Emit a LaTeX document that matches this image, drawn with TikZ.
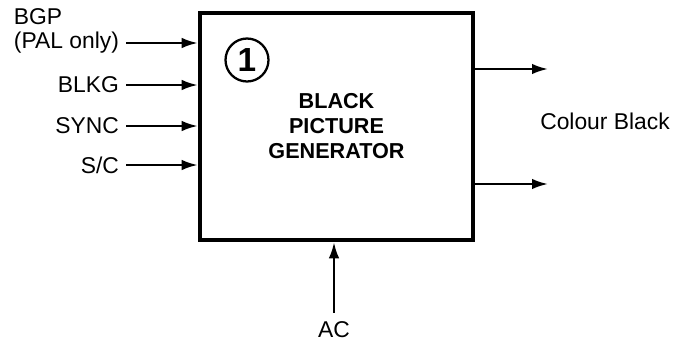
\documentclass[tikz,border=0pt]{standalone}
\usepackage{fontspec}
\setmainfont{Liberation Sans}
\usetikzlibrary{arrows.meta,positioning}

\begin{document}
\begin{tikzpicture}[x=0.02cm,y=-0.02cm,>={Latex[length=3.2mm,width=2.1mm]},
    sig/.style={->,line width=1.3pt},
    lab/.style={font=\fontsize{13}{15}\selectfont,inner sep=1pt}]
  \useasboundingbox (0,0) rectangle (675,345);

  % The generator block and its number
  \node [draw,line width=2.6pt,minimum width=5.46cm,minimum height=4.54cm,
         align=center,font=\bfseries\fontsize{12.3}{14.2}\selectfont]
        (gen) at (336.5,126.5) {BLACK\\PICTURE\\GENERATOR};
  \node [draw,circle,line width=1.3pt,minimum size=0.86cm,inner sep=0pt,
         font=\bfseries\fontsize{19}{19}\selectfont] (num) at (247,60) {1};

  % Inputs on the left
  \foreach \name/\txt/\y in {pal/{(PAL only)}/43, blkg/BLKG/85, sync/SYNC/126, sc/{S/C}/165} {
    \node [lab,anchor=east] (\name) at (121,\y) {\txt};
    \draw [sig,shorten <=3pt] (\name.east) -- (\name.east -| gen.west);
  }
  \node [lab,anchor=base west] (bgp) at ([yshift=14pt]pal.base west) {BGP};

  % Outputs on the right
  \coordinate (out1) at (548,69);
  \coordinate (out2) at (548,184);
  \draw [sig] (gen.east |- out1) -- (out1);
  \draw [sig] (gen.east |- out2) -- (out2);
  \node [lab] (colblk) at (605,121) {Colour Black};

  % Supply from below
  \node [lab] (ac) at (334,330) {AC};
  \draw [sig,shorten <=4pt] (ac.north) -- (ac.north |- gen.south);
\end{tikzpicture}
\end{document}
